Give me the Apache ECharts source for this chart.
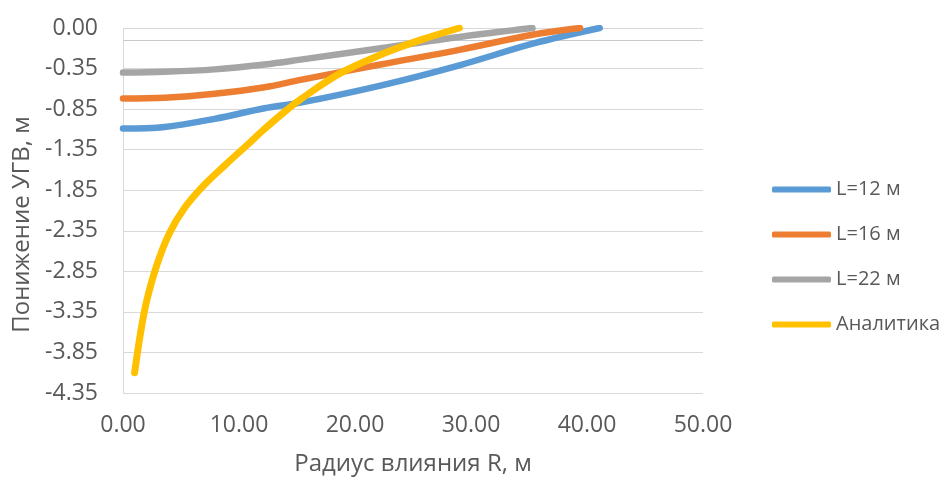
<!DOCTYPE html>
<html>
<head>
<meta charset="utf-8">
<script src="https://cdn.jsdelivr.net/npm/echarts@6/dist/echarts.min.js"></script>
<style>
  html, body { margin: 0; padding: 0; background: #ffffff; }
  #chart { width: 948px; height: 481px; }
</style>
</head>
<body>
<div id="chart"></div>
<script>
// ---- data ----
const seriesNames = ['L=12 м', 'L=16 м', 'L=22 м', 'Аналитика'];

const rL12 = [0, 3.6, 7.9, 12.2, 15.3, 22.2, 29.0, 35.4, 41.1];
const sL12 = [-1.09, -1.07, -0.97, -0.84, -0.77, -0.56, -0.31, -0.04, 0.15];

const rL16 = [0, 3.6, 7.9, 12.2, 15.3, 22.2, 29.0, 35.4, 39.4];
const sL16 = [-0.72, -0.71, -0.66, -0.58, -0.49, -0.30, -0.12, 0.07, 0.15];

const rL22 = [0, 3.6, 7.9, 12.2, 15.3, 22.2, 29.0, 35.3];
const sL22 = [-0.40, -0.39, -0.36, -0.30, -0.24, -0.10, 0.04, 0.15];

const rAn = [1.0, 1.5, 2.0, 2.9, 4.0, 5.3, 6.9, 8.8, 10.8, 12.0, 13.7, 15.3, 18.7, 22.2, 25.6, 29.0];
const sAn = [-4.10, -3.62, -3.24, -2.78, -2.38, -2.07, -1.80, -1.54, -1.28, -1.12, -0.91, -0.73, -0.41, -0.18, 0.00, 0.15];

const xTickLabels = ['0.00', '10.00', '20.00', '30.00', '40.00', '50.00'];
const yTickLabels = ['-4.35', '-3.85', '-3.35', '-2.85', '-2.35', '-1.85', '-1.35', '-0.85', '-0.35', '0.00'];

const xTitle = 'Радиус влияния R, м';
const yTitle = 'Понижение УГВ, м';

// ---- axis settings ----
const xMin = 0, xMax = 50, xStep = 10;
const yMin = -4.35, yMax = 0.15, yStep = 0.5;

const colors = ['#5b9bd5', '#ed7d31', '#a5a5a5', '#ffc000'];
const textColor = '#595959';
const font = 'Open Sans';

function pairs(xs, ys) { return xs.map((x, i) => [x, ys[i]]); }

const dataSets = [pairs(rL12, sL12), pairs(rL16, sL16), pairs(rL22, sL22), pairs(rAn, sAn)];

const series = seriesNames.map((name, i) => ({
  name: name,
  type: 'line',
  data: dataSets[i],
  smooth: 0.35,
  symbol: 'none',
  showSymbol: false,
  lineStyle: { color: colors[i], width: i === 3 ? 7 : 6.5, cap: 'round', join: 'round' },
  itemStyle: { color: colors[i] },
  z: 3 + i
}));

// horizontal axis line where the vertical axis crosses zero
series[0].markLine = {
  silent: true,
  symbol: ['none', 'none'],
  z: 1,
  label: { show: false },
  lineStyle: { color: '#c9c9c9', width: 1, type: 'solid' },
  data: [{ yAxis: 0 }]
};

const chart = echarts.init(document.getElementById('chart'), null, { renderer: 'canvas' });

chart.setOption({
  animation: false,
  backgroundColor: '#ffffff',
  color: colors,
  textStyle: { fontFamily: font },
  grid: { left: 123, right: 245, top: 28, bottom: 84, containLabel: false },
  legend: {
    orient: 'vertical',
    left: 767,
    top: 174,
    icon: 'roundRect',
    itemWidth: 59,
    itemHeight: 6,
    itemGap: 24,
    textStyle: { color: textColor, fontSize: 20, fontFamily: font, lineHeight: 21 },
    data: seriesNames
  },
  xAxis: {
    type: 'value',
    min: xMin, max: xMax, interval: xStep,
    name: xTitle,
    nameLocation: 'middle',
    nameGap: 59,
    nameTextStyle: { color: textColor, fontSize: 24, fontFamily: font },
    axisLine: { show: false },
    axisTick: { show: false },
    splitLine: { show: false },
    axisLabel: {
      color: textColor, fontSize: 23, fontFamily: font, margin: 21,
      formatter: v => xTickLabels[Math.round((v - xMin) / xStep)] ?? ''
    }
  },
  yAxis: {
    type: 'value',
    min: yMin, max: yMax, interval: yStep,
    name: yTitle,
    nameLocation: 'middle',
    nameGap: 89,
    nameTextStyle: { color: textColor, fontSize: 24, fontFamily: font, padding: [0, 28, 0, 0] },
    axisLine: { show: true, lineStyle: { color: '#d9d9d9', width: 1 } },
    axisTick: { show: false },
    splitLine: { show: true, lineStyle: { color: '#d9d9d9', width: 1 } },
    axisLabel: {
      color: textColor, fontSize: 23, fontFamily: font, margin: 25,
      formatter: v => yTickLabels[Math.round((v - yMin) / yStep)] ?? ''
    }
  },
  series: series
});
</script>
</body>
</html>
